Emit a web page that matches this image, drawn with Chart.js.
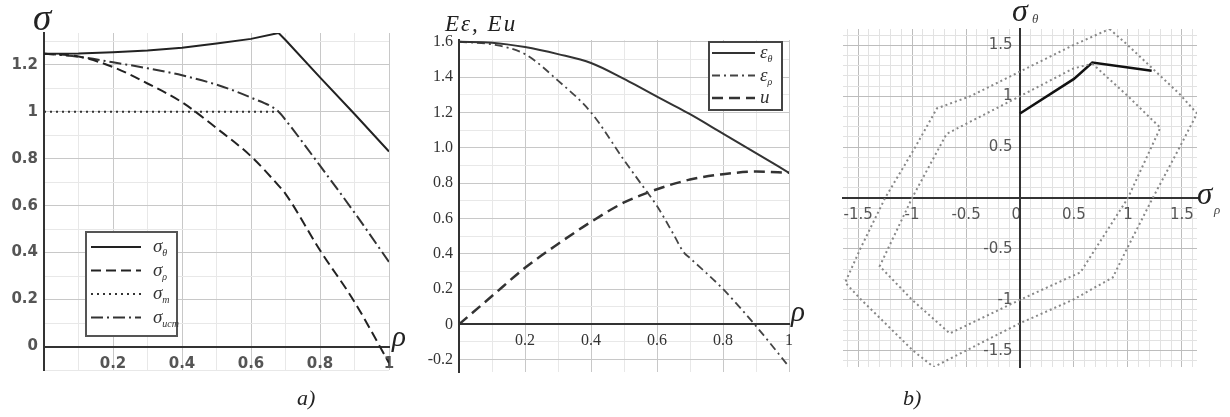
<!DOCTYPE html>
<html lang="ru">

<head>
  <meta charset="UTF-8">
  <title>Напряжения и деформации</title>
  <script src="https://cdn.jsdelivr.net/npm/chart.js@4"></script>
  <style>
    body {
      margin: 0;
      width: 1230px;
      height: 417px;
      position: relative;
      overflow: hidden;
      background: #fff;
    }

    canvas {
      position: absolute;
      top: 0;
    }

    .lbl {
      position: absolute;
      font-family: "Liberation Serif", serif;
      font-style: italic;
      line-height: 1;
      color: #222;
      white-space: nowrap;
    }
  </style>
</head>

<body>
  <canvas id="grafA" width="420" height="417" style="left:0"></canvas>
  <canvas id="grafB" width="390" height="417" style="left:420px"></canvas>
  <canvas id="grafC" width="420" height="417" style="left:810px"></canvas>

  <div class="lbl" style="left:33px; top:-1px; font-size:37px">σ</div>
  <div class="lbl" style="left:392px; top:322px; font-size:29px">ρ</div>

  <div class="lbl" style="left:445px; top:12px; font-size:23px; letter-spacing:2px">Eε, Eu</div>
  <div class="lbl" style="left:791px; top:297px; font-size:29px">ρ</div>

  <div class="lbl" style="left:1012px; top:-6px; font-size:32px">σ</div>
  <div class="lbl" style="left:1032px; top:12px; font-size:13px; color:#444">θ</div>
  <div class="lbl" style="left:1197px; top:178px; font-size:31px">σ</div>
  <div class="lbl" style="left:1214px; top:203px; font-size:13px; color:#444">ρ</div>

  <div class="lbl" style="left:297px; top:387px; font-size:22px">a)</div>
  <div class="lbl" style="left:903px; top:387px; font-size:22px">b)</div>

  <script>
    // a) напряжения по радиусу
    const rhoA = [0, 0.1, 0.2, 0.3, 0.4, 0.5, 0.6, 0.68, 0.7, 0.8, 0.9, 1.0];
    const sigmaTheta = [1.247, 1.248, 1.253, 1.26, 1.272, 1.29, 1.31, 1.335, 1.305, 1.146, 0.99, 0.83];
    const sigmaRho = [1.247, 1.235, 1.19, 1.12, 1.04, 0.93, 0.81, 0.685, 0.65, 0.41, 0.19, -0.07];
    const sigmaYield = [1, 1, 1, 1, 1, 1, 1, 1, null, null, null, null];
    const sigmaTrue = [1.247, 1.234, 1.21, 1.185, 1.155, 1.115, 1.06, 1.0, 0.965, 0.77, 0.57, 0.36];

    // деформации и перемещение
    const rhoB = [0, 0.1, 0.2, 0.3, 0.4, 0.5, 0.55, 0.6, 0.65, 0.68, 0.7, 0.8, 0.9, 1.0];
    const epsTheta = [1.6, 1.595, 1.57, 1.53, 1.48, 1.39, 1.34, 1.29, 1.24, 1.21, 1.19, 1.08, 0.97, 0.858];
    const epsRho = [1.6, 1.585, 1.53, 1.38, 1.2, 0.93, 0.8, 0.67, 0.51, 0.41, 0.375, 0.2, -0.01, -0.24];
    const uDisp = [0, 0.16, 0.32, 0.455, 0.58, 0.69, 0.73, 0.765, 0.795, 0.81, 0.82, 0.85, 0.865, 0.858];

    // b) путь нагружения и поверхности текучести
    const pathX = [0, 0.5, 0.67, 1.22];
    const pathY = [0.83, 1.17, 1.33, 1.25];
    const innerX = [0.67, 1.0, 1.3, 1.0, 0.56, 0, -0.65, -1.0, -1.3, -1.0, -0.68, 0, 0.49, 0.67];
    const innerY = [1.32, 1.0, 0.69, 0, -0.73, -1.0, -1.33, -1.0, -0.67, 0, 0.63, 1.0, 1.27, 1.32];
    const outerX = [0.83, 1.0, 1.48, 1.64, 1.48, 1.23, 0.99, 0.86, 0.49, 0, -0.8, -0.99, -1.48, -1.62, -1.48, -1.25, -0.97, -0.77, -0.46, 0.49, 0.83];
    const outerY = [1.66, 1.5, 1.02, 0.83, 0.5, 0, -0.5, -0.78, -1.0, -1.23, -1.66, -1.5, -0.99, -0.83, -0.5, 0, 0.5, 0.88, 1.0, 1.5, 1.66];

    function pts(xs, ys) {
      return xs.map((x, i) => ({ x: x, y: ys[i] }));
    }

    // major/minor grid from tick value (в десятых)
    function gridColor(major, minor, every) {
      return (ctx) => (Math.round(ctx.tick.value * 10) % every === 0 ? major : minor);
    }

    // legend drawn in a frame inside the plot
    const boxLegend = {
      id: "boxLegend",
      afterDraw(chart, args, opts) {
        if (!opts.box) return;
        const ctx = chart.ctx;
        const [bx, by, bw, bh] = opts.box;
        ctx.save();
        ctx.fillStyle = "#fff";
        ctx.fillRect(bx, by, bw, bh);
        ctx.strokeStyle = opts.frame;
        ctx.lineWidth = 2;
        ctx.strokeRect(bx, by, bw, bh);
        chart.data.datasets.forEach((ds, i) => {
          const y = by + opts.first + i * opts.step;
          ctx.beginPath();
          ctx.setLineDash(ds.borderDash || []);
          ctx.strokeStyle = ds.borderColor;
          ctx.lineWidth = ds.borderWidth;
          ctx.moveTo(bx + opts.line[0], y);
          ctx.lineTo(bx + opts.line[1], y);
          ctx.stroke();
          ctx.setLineDash([]);
          ctx.fillStyle = "#333";
          ctx.textBaseline = "alphabetic";
          ctx.font = opts.font;
          const tx = bx + opts.textX;
          ctx.fillText(ds.label, tx, y + opts.base);
          const w = ctx.measureText(ds.label).width;
          if (ds.sub) {
            ctx.font = opts.subFont;
            ctx.fillText(ds.sub, tx + w, y + opts.base + opts.subDrop);
          }
        });
        ctx.restore();
      },
    };

    const base = {
      responsive: false,
      animation: false,
      devicePixelRatio: 1,
      elements: {
        point: { radius: 0 },
        line: { fill: false },
      },
    };

    // a)
    new Chart(document.getElementById("grafA"), {
      type: "line",
      data: {
        datasets: [
          { label: "σ", sub: "θ", data: pts(rhoA, sigmaTheta), borderColor: "#222", borderWidth: 2 },
          { label: "σ", sub: "ρ", data: pts(rhoA, sigmaRho), borderColor: "#222", borderWidth: 2, borderDash: [10, 5], cubicInterpolationMode: "monotone" },
          { label: "σ", sub: "т", data: pts(rhoA, sigmaYield), borderColor: "#333", borderWidth: 2, borderDash: [2, 4] },
          { label: "σ", sub: "ист", data: pts(rhoA, sigmaTrue), borderColor: "#333", borderWidth: 2, borderDash: [12, 4, 2, 4], cubicInterpolationMode: "monotone" },
        ],
      },
      options: {
        ...base,
        layout: { padding: { left: 0, top: 33, right: 31, bottom: 47 } },
        plugins: {
          legend: { display: false },
          tooltip: { enabled: false },
          boxLegend: {
            box: [86, 232, 91, 104], frame: "#555", first: 15, step: 23.5,
            line: [5, 55], textX: 67, base: 5, subDrop: 4,
            font: "italic 19px 'Liberation Serif'", subFont: "italic 10px 'Liberation Serif'",
          },
        },
        scales: {
          x: {
            type: "linear", position: { y: 0 }, min: 0, max: 1,
            ticks: {
              stepSize: 0.1, includeBounds: false, autoSkip: false, maxRotation: 0, padding: 9,
              color: "#555", font: { family: "DejaVu Sans", size: 15, weight: "bold" },
              callback: (v) => { const k = Math.round(v * 10); return k > 0 && k % 2 === 0 ? String(k / 10) : ""; },
            },
            grid: { color: gridColor("#c8c8c8", "#e8e8e8", 2), drawTicks: false },
            border: { color: "#333", width: 2 },
          },
          y: {
            type: "linear", position: "left", min: -0.1, max: 1.335,
            afterFit: (s) => { s.width = 44; },
            ticks: {
              stepSize: 0.1, includeBounds: false, autoSkip: false, padding: 6,
              color: "#555", font: { family: "DejaVu Sans", size: 15, weight: "bold" },
              callback: (v) => { const k = Math.round(v * 10); return k >= 0 && k % 2 === 0 ? String(k / 10) : ""; },
            },
            grid: { color: gridColor("#c8c8c8", "#e8e8e8", 2), drawTicks: false },
            border: { color: "#333", width: 2 },
          },
        },
      },
      plugins: [boxLegend],
    });

    // деформации
    new Chart(document.getElementById("grafB"), {
      type: "line",
      data: {
        datasets: [
          { label: "ε", sub: "θ", data: pts(rhoB, epsTheta), borderColor: "#333", borderWidth: 2, cubicInterpolationMode: "monotone" },
          { label: "ε", sub: "ρ", data: pts(rhoB, epsRho), borderColor: "#444", borderWidth: 1.8, borderDash: [8, 4, 2, 4], cubicInterpolationMode: "monotone" },
          { label: "u", sub: "", data: pts(rhoB, uDisp), borderColor: "#333", borderWidth: 2.5, borderDash: [11, 6], cubicInterpolationMode: "monotone" },
        ],
      },
      options: {
        ...base,
        layout: { padding: { left: 0, top: 40, right: 21, bottom: 45 } },
        plugins: {
          legend: { display: false },
          tooltip: { enabled: false },
          boxLegend: {
            box: [289, 42, 73, 68], frame: "#444", first: 11, step: 22.5,
            line: [3, 46], textX: 51, base: 5, subDrop: 4,
            font: "italic 19px 'Liberation Serif'", subFont: "italic 10px 'Liberation Serif'",
          },
        },
        scales: {
          x: {
            type: "linear", position: { y: 0 }, min: 0, max: 1,
            ticks: {
              stepSize: 0.1, includeBounds: false, autoSkip: false, maxRotation: 0, padding: 7,
              color: "#333", font: { family: "Liberation Serif", size: 16 },
              callback: (v) => { const k = Math.round(v * 10); return k > 0 && k % 2 === 0 ? String(k / 10) : ""; },
            },
            grid: { color: gridColor("#c8c8c8", "#e8e8e8", 2), drawTicks: false },
            border: { color: "#333", width: 2 },
          },
          y: {
            type: "linear", position: "left", min: -0.27, max: 1.61,
            afterFit: (s) => { s.width = 39; },
            ticks: {
              stepSize: 0.1, includeBounds: false, autoSkip: false, padding: 6,
              color: "#333", font: { family: "Liberation Serif", size: 16 },
              callback: (v) => { const k = Math.round(v * 10); if (k % 2 !== 0) return ""; return k === 0 ? "0" : (k / 10).toFixed(1); },
            },
            grid: { color: gridColor("#c8c8c8", "#e8e8e8", 2), drawTicks: false },
            border: { color: "#333", width: 2 },
          },
        },
      },
      plugins: [boxLegend],
    });

    // b)
    new Chart(document.getElementById("grafC"), {
      type: "line",
      data: {
        datasets: [
          { data: pts(outerX, outerY), borderColor: "#888", borderWidth: 2, borderDash: [2, 3] },
          { data: pts(innerX, innerY), borderColor: "#888", borderWidth: 2, borderDash: [2, 3] },
          { data: pts(pathX, pathY), borderColor: "#111", borderWidth: 2.5 },
        ],
      },
      options: {
        ...base,
        layout: { padding: { left: 33, top: 29, right: 33, bottom: 50 } },
        plugins: {
          legend: { display: false },
          tooltip: { enabled: false },
        },
        scales: {
          x: {
            type: "linear", position: { y: 0 }, min: -1.64, max: 1.64,
            ticks: {
              stepSize: 0.1, includeBounds: false, autoSkip: false, maxRotation: 0, padding: 8,
              color: "#555", font: { family: "DejaVu Sans", size: 15 },
              callback: (v) => {
                const k = Math.round(v * 10);
                if (k === 0) return "0\u2002";
                return k % 5 === 0 ? String(k / 10) : "";
              },
            },
            grid: { color: gridColor("#bdbdbd", "#e2e2e2", 5), drawTicks: false },
            border: { color: "#333", width: 2 },
          },
          y: {
            type: "linear", position: { x: 0 }, min: -1.66, max: 1.66,
            ticks: {
              stepSize: 0.1, includeBounds: false, autoSkip: false,
              color: "#555", font: { family: "DejaVu Sans", size: 15 },
              callback: (v) => { const k = Math.round(v * 10); return k !== 0 && k % 5 === 0 ? String(k / 10) + "\u2002" : ""; },
            },
            grid: { color: gridColor("#bdbdbd", "#e2e2e2", 5), drawTicks: false },
            border: { color: "#333", width: 2 },
          },
        },
      },
    });
  </script>
</body>

</html>
